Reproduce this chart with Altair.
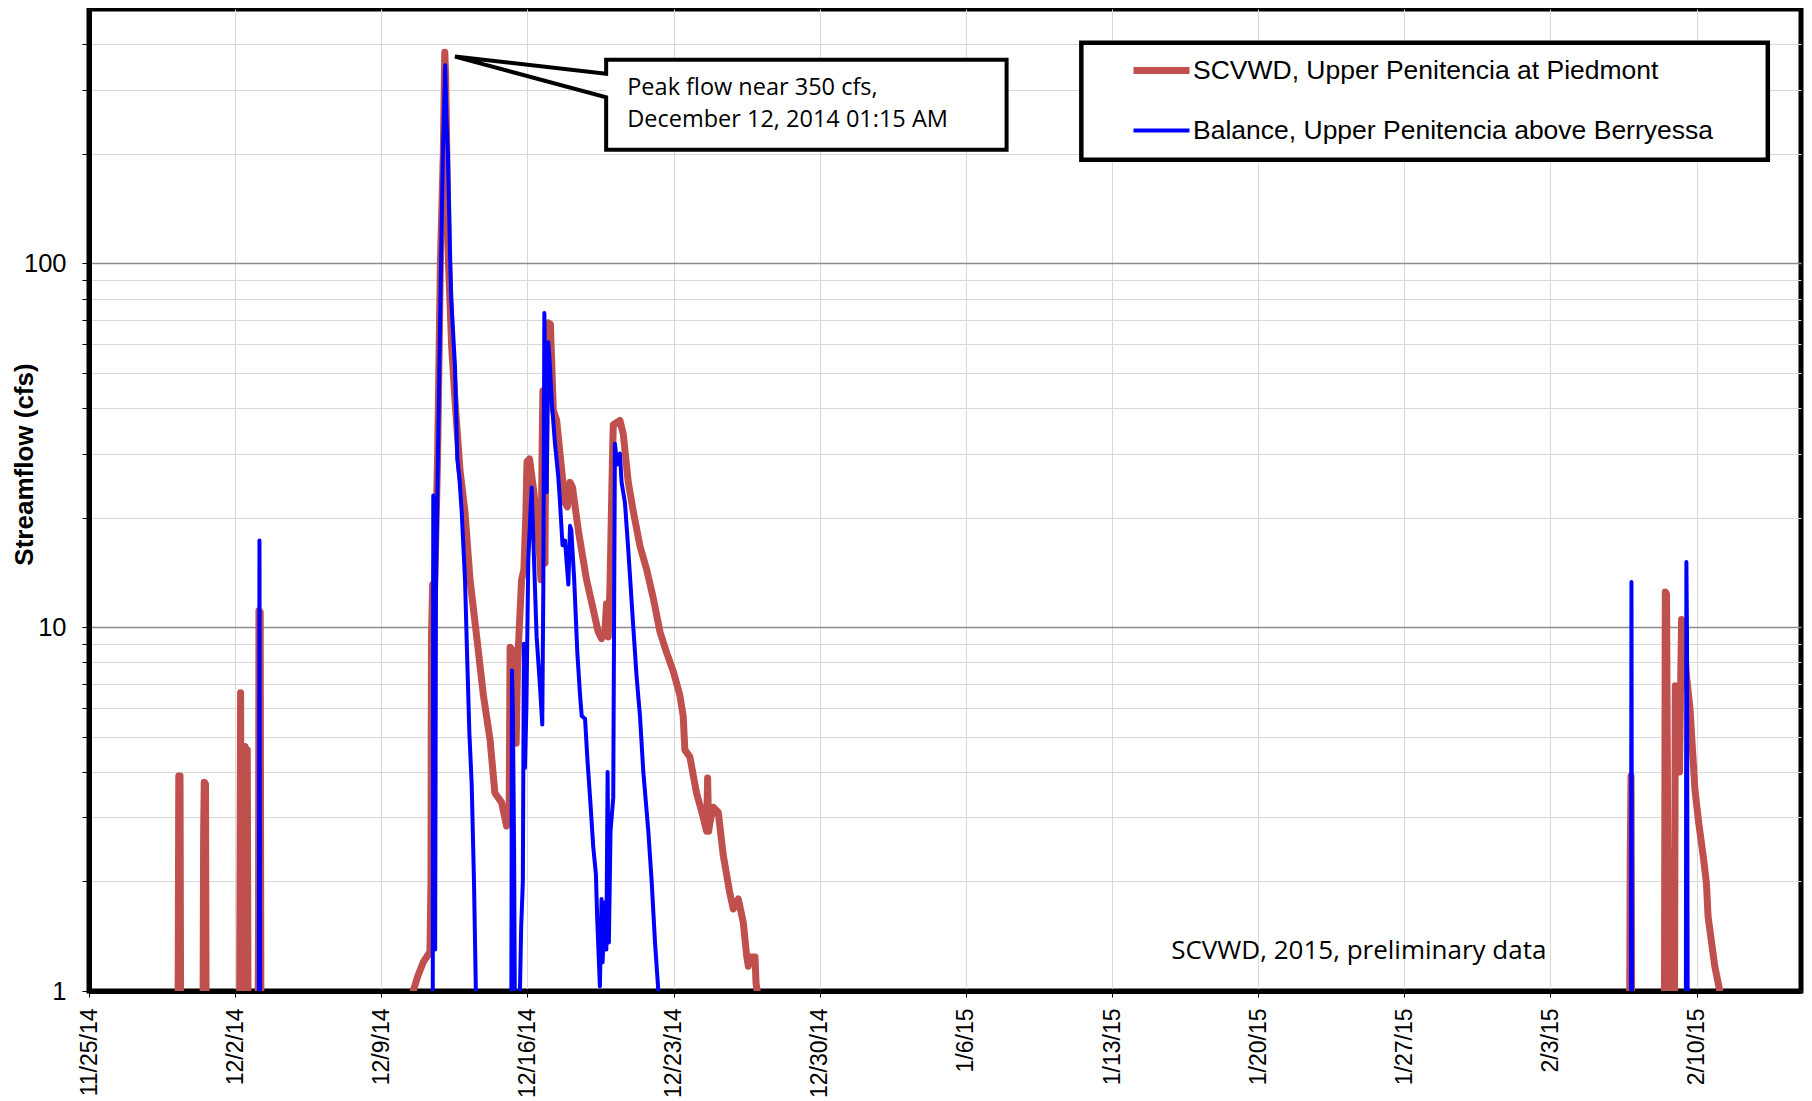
import altair as alt
import pandas as pd

# ---------------- data ----------------
START = "2014-11-25 00:00"          # day 0 of the elapsed-day arrays below
SCVWD = "SCVWD, Upper Penitencia at Piedmont"
BAL = "Balance, Upper Penitencia above Berryessa"

# SCVWD gauge: elapsed days since 11/25/14 and streamflow (cfs); 0.5 = below plot (no flow)
red_day = [
    4.20, 4.27, 4.30, 4.36, 4.40,
    5.45, 5.49, 5.52, 5.58, 5.62,
    7.20, 7.26, 7.31, 7.36, 7.42, 7.47, 7.53, 7.58, 7.63,
    8.08, 8.12, 8.14, 8.20, 8.24,
    15.45, 15.53, 15.75, 16.01, 16.33, 16.38, 16.40, 16.46, 16.55, 16.70,
    16.83, 16.97, 17.04, 17.08, 17.14, 17.22, 17.37, 17.53, 17.77, 18.01,
    18.25, 18.57, 18.89, 19.21, 19.44, 19.76, 20.00, 20.12, 20.17, 20.32,
    20.40, 20.46, 20.53, 20.72, 20.83, 20.92, 20.98, 21.10, 21.31, 21.57,
    21.65, 21.70, 21.74, 21.80, 21.84, 21.88, 22.00, 22.10, 22.24, 22.40,
    22.64, 22.80, 22.91, 23.04, 23.16, 23.44, 23.83, 24.15, 24.39, 24.55,
    24.71, 24.79, 24.87, 24.95, 25.05, 25.11, 25.43, 25.59, 25.83, 26.07,
    26.39, 26.71, 27.03, 27.35, 27.67, 27.99, 28.30, 28.46, 28.54, 28.78,
    29.10, 29.42, 29.58, 29.63, 29.68, 29.74, 29.90, 30.14, 30.38, 30.70,
    30.86, 31.10, 31.34, 31.50, 31.58, 31.62, 31.90, 31.95, 32.06, 32.12,
    73.78, 73.82, 73.86, 73.90,
    75.45, 75.50, 75.56, 75.66, 75.72, 75.78, 75.93, 75.98, 76.12, 76.18,
    76.22, 76.28, 76.40, 76.50, 76.68, 76.92, 77.10, 77.32, 77.47, 77.55,
    77.87, 78.11, 78.20,
]
red_cfs = [
    0.5, 1.0, 3.9, 3.9, 0.5,
    0.5, 2.7, 3.75, 3.7, 0.5,
    0.5, 6.6, 0.6, 4.7, 0.6, 4.7, 0.6, 4.6, 0.5,
    0.5, 1.5, 11.1, 11.0, 0.5,
    0.85, 1.0, 1.1, 1.2, 1.28, 2.0, 9.1, 13.1, 12.5, 30,
    100, 200, 380, 330, 200, 100, 59, 42, 27, 20.7,
    13.5, 9.4, 6.5, 4.9, 3.5, 3.3, 2.84, 2.9, 8.8, 8.6,
    6.0, 4.8, 8.0, 13.5, 14.4, 20, 28.5, 29, 23.5, 16.3,
    13.5, 30, 44.6, 40, 15, 40, 68.6, 68, 39.5, 37,
    27, 22, 21.4, 25, 24.2, 18.4, 13.5, 11.2, 9.7, 9.3,
    9.7, 11.6, 9.4, 12.7, 25, 36, 37, 33.9, 25, 20.8,
    16.7, 14.4, 12.0, 9.7, 8.5, 7.55, 6.5, 5.7, 4.6, 4.4,
    3.5, 3.0, 2.75, 3.85, 2.75, 2.9, 3.2, 3.1, 2.36, 1.85,
    1.68, 1.79, 1.54, 1.25, 1.17, 1.24, 1.24, 1.05, 0.95, 0.5,
    0.5, 2.3, 3.9, 0.5,
    0.5, 12.5, 12.3, 0.8, 2.4, 0.5, 0.5, 6.9, 6.7, 4.0,
    6.0, 10.5, 9.6, 7.5, 6.0, 3.57, 2.9, 2.34, 1.98, 1.6,
    1.17, 1.0, 0.6,
]

# Balance gauge
blue_day = [
    8.13, 8.165, 8.20,
    16.46, 16.49, 16.51, 16.54, 16.58, 16.62, 16.75, 16.86, 16.95, 17.06,
    17.12, 17.19, 17.29, 17.35, 17.53, 17.64, 17.74, 17.85, 18.01, 18.12,
    18.22, 18.33, 18.44, 18.53, 18.56,
    20.22, 20.26, 20.30, 20.36, 20.42,
    20.60, 20.64, 20.70, 20.78, 20.83, 20.88, 20.95, 21.04, 21.20, 21.28,
    21.44, 21.60, 21.71, 21.76, 21.81, 21.88, 21.92, 22.00, 22.08, 22.16,
    22.32, 22.48, 22.56, 22.68, 22.80, 22.96, 23.04, 23.10, 23.24, 23.39,
    23.52, 23.60, 23.76, 23.87, 24.00, 24.15, 24.28, 24.34, 24.47, 24.55,
    24.60, 24.70, 24.78, 24.84, 24.90, 24.98, 25.11, 25.19, 25.30, 25.43,
    25.51, 25.67, 25.83, 26.07, 26.23, 26.39, 26.55, 26.79, 26.95, 27.11,
    27.27, 27.30,
    73.85, 73.88, 73.91,
    76.48, 76.51, 76.54, 76.58,
]
blue_cfs = [
    0.5, 17.3, 0.5,
    0.5, 23, 2.2, 13, 1.3, 13, 40, 100, 200, 350,
    250, 200, 108, 80, 52, 29, 25.8, 20.8, 13.5, 8.0,
    5.1, 3.7, 2.0, 1.0, 0.5,
    0.5, 7.6, 6.0, 2.5, 0.5,
    0.5, 1.0, 1.5, 2.0, 9.0, 4.1, 6.0, 15.3, 24.2, 17.6,
    9.4, 6.9, 5.4, 12.7, 73, 35, 23.5, 60.7, 52, 42,
    31.9, 25.8, 22, 16.8, 17.3, 13.1, 19, 18.5, 13.5, 8.5,
    6.5, 5.7, 5.6, 4.35, 3.4, 2.5, 2.09, 1.59, 1.03, 1.79,
    1.2, 1.75, 1.3, 4.0, 1.36, 2.75, 3.4, 31.9, 28, 30,
    25, 22, 16.3, 10, 7.3, 5.7, 4.0, 2.75, 2.0, 1.36,
    1.0, 0.5,
    0.5, 13.3, 0.5,
    0.5, 15.1, 9.4, 0.5,
]

tick_dates = ["2014-11-25", "2014-12-02", "2014-12-09", "2014-12-16",
              "2014-12-23", "2014-12-30", "2015-01-06", "2015-01-13",
              "2015-01-20", "2015-01-27", "2015-02-03", "2015-02-10"]
x_domain = ["2014-11-25", "2015-02-15"]
y_ticks = [1, 2, 3, 4, 5, 6, 7, 8, 9, 10, 20, 30, 40, 50, 60, 70, 80, 90,
           100, 200, 300, 400]
y_domain = [1, 500]

# callout (elapsed days, cfs)
callout_day = [24.77, 43.95, 43.95, 24.77, 24.77, 17.53, 24.77, 24.77]
callout_cfs = [362.7, 362.7, 205.3, 205.3, 286, 370, 332, 362.7]
callout_text = ["Peak flow near 350 cfs,", "December 12, 2014 01:15 AM"]
callout_text_day = [25.78, 25.78]
callout_text_cfs = [303.9, 248]
note_text = ["SCVWD, 2015, preliminary data"]
note_day = [60.82]
note_cfs = [1.288]
legend_box_day = [47.53, 80.41]
legend_box_cfs = [404, 192.5]


def at(days):
    return pd.Timestamp(START) + pd.to_timedelta(days, unit="D")


def dt(s):
    t = pd.Timestamp(s)
    return alt.DateTime(year=t.year, month=t.month, date=t.day)


red = pd.DataFrame({"t": at(red_day), "cfs": red_cfs, "series": SCVWD})
blue = pd.DataFrame({"t": at(blue_day), "cfs": blue_cfs, "series": BAL})
callout = pd.DataFrame({"t": at(callout_day), "cfs": callout_cfs,
                        "i": list(range(len(callout_day)))})
callout_fill = pd.DataFrame({"t": at([callout_day[0]]), "t2": at([callout_day[1]]),
                             "y": [callout_cfs[0]], "y2": [callout_cfs[2]]})
ctext = pd.DataFrame({"t": at(callout_text_day), "cfs": callout_text_cfs,
                      "txt": callout_text})
ntext = pd.DataFrame({"t": at(note_day), "cfs": note_cfs, "txt": note_text})
lbox = pd.DataFrame({"t": at([legend_box_day[0]]), "t2": at([legend_box_day[1]]),
                     "y": [legend_box_cfs[0]], "y2": [legend_box_cfs[1]]})

# ---------------- scales / axes ----------------
FONT = "Liberation Sans, Arial, sans-serif"
TXTFONT = "Open Sans, Carlito, Calibri, sans-serif"

xscale = alt.Scale(domain=[dt(d) for d in x_domain], nice=False)
yscale = alt.Scale(type="log", domain=y_domain, nice=False)

x_axis = alt.Axis(
    values=[dt(d) for d in tick_dates], format="%-m/%-d/%y", labelAngle=-90,
    labelFont=FONT, labelFontSize=23, labelColor="black", labelPadding=11,
    labelFlush=False, labelOverlap=False, tickSize=6, tickColor="black",
    tickWidth=1, domainColor="black", domainWidth=5, grid=True,
    gridColor="#D9D9D9", gridWidth=1, title=None)

y_axis = alt.Axis(
    values=y_ticks,
    labelExpr="datum.value == 1 || datum.value == 10 || datum.value == 100 ? '' + datum.value : ''",
    labelFont=FONT, labelFontSize=25.5, labelColor="black", labelPadding=16,
    labelFlush=False, labelOverlap=False, tickSize=7, tickColor="black",
    tickWidth=1, domainColor="black", domainWidth=5, grid=True,
    gridColor={"condition": {"test": "datum.value == 10 || datum.value == 100",
                             "value": "#8C8C8C"}, "value": "#D9D9D9"},
    gridWidth={"condition": {"test": "datum.value == 10 || datum.value == 100",
                             "value": 1.4}, "value": 1},
    title="Streamflow (cfs)", titleFont=FONT, titleFontSize=26,
    titleFontWeight="bold", titleColor="black", titleAngle=270,
    titleAlign="center", titleBaseline="middle", titleX=-65, titleY=455)

legend = alt.Legend(
    title=None, orient="none", legendX=1041, legendY=30, symbolType="stroke",
    symbolSize=3136, labelFont=FONT, labelFontSize=26.5, labelColor="black",
    labelOffset=0, rowPadding=15.5, padding=0, labelLimit=900)

color = alt.Color("series:N", scale=alt.Scale(domain=[SCVWD, BAL],
                                              range=["#C0504D", "#0000FF"]),
                  legend=legend)
width_enc = alt.StrokeWidth("series:N", scale=alt.Scale(domain=[SCVWD, BAL],
                                                        range=[7, 4]),
                            legend=legend)

X = alt.X("t:T", scale=xscale, axis=x_axis)


def Y(field):
    return alt.Y(field, scale=yscale, axis=y_axis)


def line_layer(df):
    return alt.Chart(df).mark_line(clip=True, strokeJoin="round",
                                   strokeCap="round").encode(
        x=X, y=Y("cfs:Q"), color=color, strokeWidth=width_enc)


red_line = line_layer(red)
blue_line = line_layer(blue)

legend_rect = alt.Chart(lbox).mark_rect(fill="white", stroke="black",
                                        strokeWidth=4.5).encode(
    x=X, x2="t2:T", y=Y("y:Q"), y2="y2:Q")

callout_bg = alt.Chart(callout_fill).mark_rect(fill="white").encode(
    x=X, x2="t2:T", y=Y("y:Q"), y2="y2:Q")

callout_outline = alt.Chart(callout).mark_line(
    color="black", strokeWidth=4, strokeJoin="miter", strokeCap="square").encode(
    x=X, y=Y("cfs:Q"), order="i:Q")

callout_txt = alt.Chart(ctext).mark_text(
    align="left", baseline="middle", font=TXTFONT, fontSize=23.5,
    color="black").encode(x=X, y=Y("cfs:Q"), text="txt:N")

note = alt.Chart(ntext).mark_text(
    align="center", baseline="middle", font=TXTFONT, fontSize=26,
    color="black").encode(x=X, y=Y("cfs:Q"), text="txt:N")

chart = alt.layer(
    red_line, blue_line, legend_rect, callout_bg, callout_outline,
    callout_txt, note
).properties(
    width=1712, height=982,
    autosize=alt.AutoSizeParams(type="none"),
    padding={"left": 81, "top": 1, "right": 3, "bottom": 108},
    background="white",
).configure_view(stroke="black", strokeWidth=5)

chart.save("out.html", embed_options={"renderer": "svg", "actions": False})
